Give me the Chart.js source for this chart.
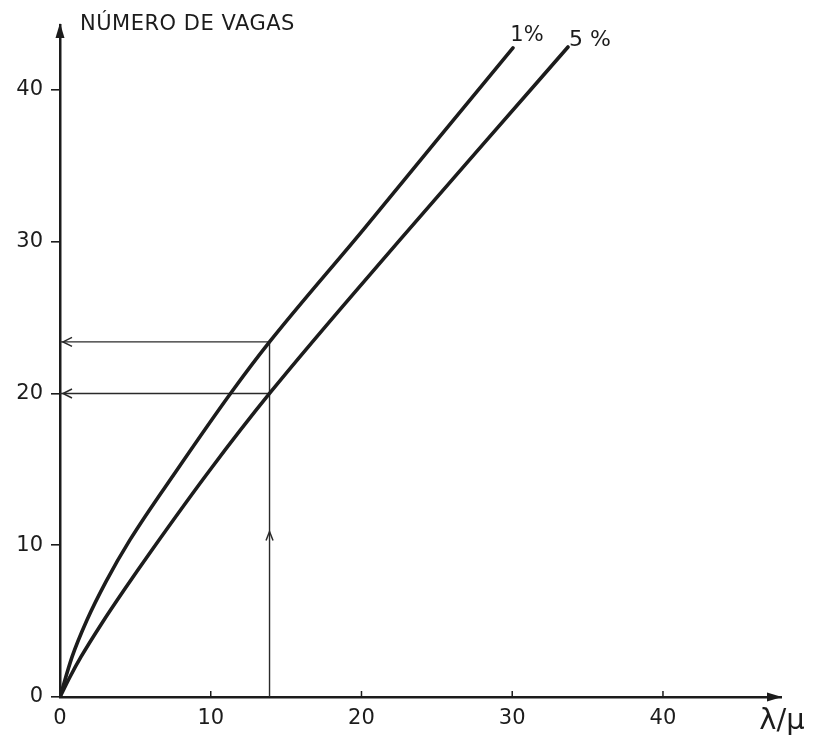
<!DOCTYPE html>
<html>
<head>
<meta charset="utf-8">
<script src="https://cdn.jsdelivr.net/npm/chart.js@4.4.1/dist/chart.umd.min.js"></script>
<style>
  html, body { margin: 0; padding: 0; background: #fff; }
  #wrap { width: 815px; height: 737px; }
</style>
</head>
<body>
<div id="wrap"><canvas id="c" width="815" height="737"></canvas></div>
<script>
// Traffic load (λ/μ) versus number of places needed, for 1% and 5% blocking
const lambdaMu1 = [0, 0.80, 1.79, 3.05, 4.64, 7.76, 11.48, 13.9, 20.1, 24.88, 30.05];
const vagas1    = [0, 2.64, 5.07, 7.60, 10.35, 14.96, 20.23, 23.4, 30.77, 36.55, 42.77];

const lambdaMu5 = [0, 0.66, 1.39, 2.79, 4.25, 6.10, 9.95, 13.9, 22.55, 28.32, 33.70];
const vagas5    = [0, 1.32, 2.64, 4.88, 7.05, 9.69, 14.96, 20.0, 30.12, 36.71, 42.83];

// worked example: load 13.9 read against both curves
const exampleLoad = 13.9;
const exampleVagas = [23.4, 20];
const exampleArrowAt = 10.9;

const xTicks = [0, 10, 20, 30, 40];
const yTicks = [0, 10, 20, 30, 40];
const curveLabels = ['1%', '5 %'];

const INK = '#1c1c1c';
const FONT = '"DejaVu Sans", sans-serif';

const toPts = (xs, ys) => xs.map((x, i) => ({ x: x, y: ys[i] }));

const guideStyle = {
  borderColor: '#2a2a2a', borderWidth: 1.4, pointRadius: 0, tension: 0, showLine: true, fill: false
};
const curveStyle = {
  borderColor: INK, borderWidth: 3.6, pointRadius: 0, showLine: true, fill: false,
  cubicInterpolationMode: 'monotone', borderCapStyle: 'round'
};

const decor = {
  id: 'decor',
  afterDraw(chart) {
    const { ctx, chartArea: a, scales: { x, y } } = chart;
    ctx.save();
    ctx.fillStyle = INK;
    ctx.strokeStyle = INK;

    // axis arrowheads
    ctx.beginPath();
    ctx.moveTo(a.left, a.top - 2);
    ctx.lineTo(a.left - 4.5, a.top + 13);
    ctx.lineTo(a.left + 4.5, a.top + 13);
    ctx.closePath();
    ctx.fill();
    ctx.beginPath();
    ctx.moveTo(a.right + 1, a.bottom);
    ctx.lineTo(a.right - 14, a.bottom - 4.5);
    ctx.lineTo(a.right - 14, a.bottom + 4.5);
    ctx.closePath();
    ctx.fill();

    // x tick marks pointing into the plot
    ctx.lineWidth = 1.5;
    xTicks.forEach(v => {
      if (v === 0) return;
      const px = x.getPixelForValue(v);
      ctx.beginPath();
      ctx.moveTo(px, a.bottom);
      ctx.lineTo(px, a.bottom - 6);
      ctx.stroke();
    });

    // open arrowheads on the guide lines
    ctx.strokeStyle = '#2a2a2a';
    ctx.lineWidth = 1.5;
    exampleVagas.forEach(v => {
      const px = x.getPixelForValue(0) + 3;
      const py = y.getPixelForValue(v);
      ctx.beginPath();
      ctx.moveTo(px + 9, py - 4.5);
      ctx.lineTo(px, py);
      ctx.lineTo(px + 9, py + 4.5);
      ctx.stroke();
    });
    const ax = x.getPixelForValue(exampleLoad);
    const ay = y.getPixelForValue(exampleArrowAt);
    ctx.beginPath();
    ctx.moveTo(ax - 3.5, ay + 9);
    ctx.lineTo(ax, ay);
    ctx.lineTo(ax + 3.5, ay + 9);
    ctx.stroke();

    // texts
    ctx.fillStyle = INK;
    ctx.textBaseline = 'middle';
    ctx.textAlign = 'left';
    ctx.font = '21px ' + FONT;
    ctx.letterSpacing = '0.5px';
    ctx.fillText('NÚMERO DE VAGAS', a.left + 20, 25);
    ctx.letterSpacing = '0px';

    ctx.textAlign = 'center';
    const e1 = lambdaMu1.length - 1, e5 = lambdaMu5.length - 1;
    ctx.font = '21px ' + FONT;
    ctx.fillText(curveLabels[0], x.getPixelForValue(lambdaMu1[e1]) + 14, y.getPixelForValue(vagas1[e1]) - 12);
    ctx.font = '22px ' + FONT;
    ctx.fillText(curveLabels[1], x.getPixelForValue(lambdaMu5[e5]) + 22, y.getPixelForValue(vagas5[e5]) - 7);

    ctx.font = '29px ' + FONT;
    ctx.fillText('λ/μ', 782, 721);
    ctx.restore();
  }
};

new Chart(document.getElementById('c'), {
  type: 'scatter',
  data: {
    datasets: [
      Object.assign({ label: '1%', data: toPts(lambdaMu1, vagas1) }, curveStyle),
      Object.assign({ label: '5%', data: toPts(lambdaMu5, vagas5) }, curveStyle),
      Object.assign({ label: 'carga', data: [{ x: exampleLoad, y: 0 }, { x: exampleLoad, y: exampleVagas[0] }] }, guideStyle),
      Object.assign({ label: 'v1', data: [{ x: exampleLoad, y: exampleVagas[0] }, { x: 0, y: exampleVagas[0] }] }, guideStyle),
      Object.assign({ label: 'v5', data: [{ x: exampleLoad, y: exampleVagas[1] }, { x: 0, y: exampleVagas[1] }] }, guideStyle)
    ]
  },
  options: {
    responsive: false,
    animation: false,
    devicePixelRatio: 1,
    layout: { padding: { top: 25, right: 34, left: 0, bottom: 0 } },
    plugins: { legend: { display: false }, tooltip: { enabled: false } },
    scales: {
      x: {
        type: 'linear', min: 0, max: 47.83,
        afterFit(s) { s.height = 40; },
        border: { display: true, color: INK, width: 2.5 },
        grid: { display: true, drawOnChartArea: false, drawTicks: false },
        afterBuildTicks(s) { s.ticks = xTicks.map(v => ({ value: v })); },
        ticks: { color: INK, font: { family: FONT, size: 21 }, padding: 9, maxRotation: 0 }
      },
      y: {
        type: 'linear', min: 0, max: 44.28,
        afterFit(s) { s.width = 60; },
        border: { display: true, color: INK, width: 2.5 },
        grid: { display: true, drawOnChartArea: false, drawTicks: true, tickLength: 9, color: INK, lineWidth: 1.6 },
        afterBuildTicks(s) { s.ticks = yTicks.map(v => ({ value: v })); },
        ticks: { color: INK, font: { family: FONT, size: 21 }, padding: 8 }
      }
    }
  },
  plugins: [decor]
});
</script>
</body>
</html>
